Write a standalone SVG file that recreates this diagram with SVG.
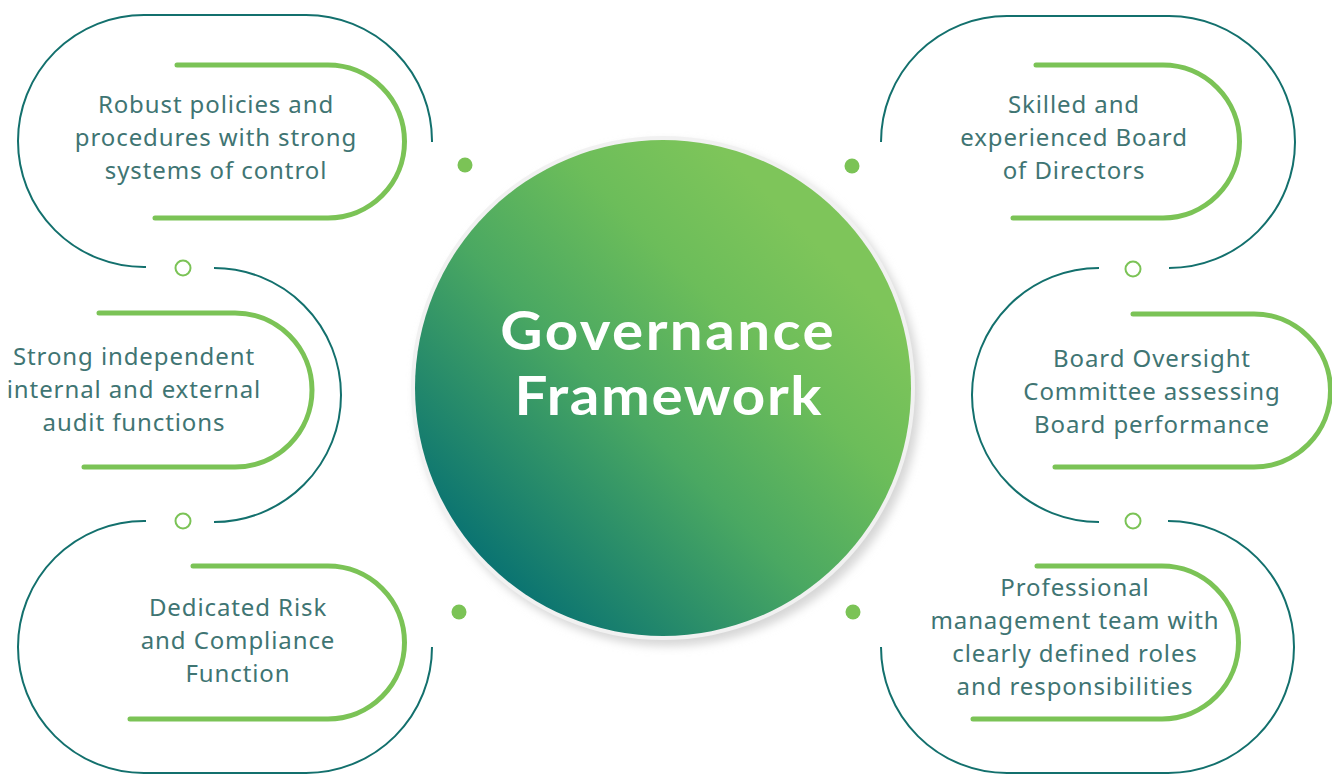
<svg xmlns="http://www.w3.org/2000/svg" width="1332" height="774" viewBox="0 0 1332 774">
  <defs>
    <linearGradient id="hubFill" x1="0.15" y1="0.85" x2="0.8" y2="0.2">
      <stop offset="0" stop-color="#0b7471"/>
      <stop offset="0.45" stop-color="#4aa862"/>
      <stop offset="0.75" stop-color="#6cbd5a"/>
      <stop offset="1" stop-color="#7ec55a"/>
    </linearGradient>
    <filter id="soft" x="-20%" y="-20%" width="140%" height="140%">
      <feGaussianBlur stdDeviation="5"/>
    </filter>
    <style>
      .outline { fill: none; stroke: #13706d; stroke-width: 2; }
      .accent { fill: none; stroke: #7bc356; stroke-width: 5; stroke-linecap: round; }
      .ring { fill: #ffffff; stroke: #7bc356; stroke-width: 2; }
      .dot { fill: #7bc356; }
      .label { font-family: "Noto Sans", "Liberation Sans", sans-serif; font-size: 24px; letter-spacing: 0.9px; fill: #3f7573; text-anchor: middle; }
      .title { font-family: Lato, "Liberation Sans", sans-serif; font-size: 53px; font-weight: 700; fill: #ffffff; text-anchor: middle; }
    </style>
  </defs>
  <rect width="1332" height="774" fill="#ffffff"/>

  <!-- connectors: outline arcs, accent arcs and joint markers -->
  <g id="connectors">
    <path class="outline" d="M432,142 A126,126 0 0 0 306,15 H144 A126,126 0 0 0 18,141 A126,126 0 0 0 144,267 H146"/>
    <path class="outline" d="M214,268 A127,127 0 0 1 214,522"/>
    <path class="outline" d="M146,521 H144 A126,126 0 0 0 18,647 A126,126 0 0 0 144,773 H306 A126,126 0 0 0 432,647"/>
    <path class="outline" d="M881,142 A126,126 0 0 1 1007,16 H1169 A126,126 0 0 1 1295,142 A126,126 0 0 1 1169,268"/>
    <path class="outline" d="M1099,268 A127,127 0 0 0 1099,522"/>
    <path class="outline" d="M1168,521 A126,126 0 0 1 1294,647 A126,126 0 0 1 1168,773 H1007 A126,126 0 0 1 881,647"/>

    <circle class="ring" cx="183" cy="268" r="7.5"/>
    <circle class="ring" cx="183" cy="521" r="7.5"/>
    <circle class="ring" cx="1133" cy="269" r="7.5"/>
    <circle class="ring" cx="1133" cy="521" r="7.5"/>

    <circle class="dot" cx="465" cy="165" r="7.5"/>
    <circle class="dot" cx="852" cy="166" r="7.5"/>
    <circle class="dot" cx="459" cy="612" r="7.5"/>
    <circle class="dot" cx="853" cy="612" r="7.5"/>
  </g>

  <!-- central hub -->
  <g id="hub">
    <circle cx="668" cy="394" r="252" fill="#d6d6d6" filter="url(#soft)"/>
    <circle cx="663" cy="388" r="252" fill="#f1f1f1"/>
    <circle cx="663" cy="388" r="248" fill="url(#hubFill)"/>
    <text class="title" transform="translate(667,350) scale(1.1,1)" textLength="303" lengthAdjust="spacing">Governance</text>
    <text class="title" transform="translate(668,415) scale(1.1,1)" textLength="279" lengthAdjust="spacing">Framework</text>
  </g>

  <g id="node-policies">
    <path class="accent" d="M177,65 H328 A76.5,76.5 0 0 1 328,218 H155"/>
    <text class="label" x="216" y="113">Robust policies and</text>
    <text class="label" x="216" y="146">procedures with strong</text>
    <text class="label" x="216" y="179">systems of control</text>
  </g>

  <g id="node-audit">
    <path class="accent" d="M99,313 H235 A77,77 0 0 1 235,467 H84"/>
    <text class="label" x="134" y="365">Strong independent</text>
    <text class="label" x="134" y="398">internal and external</text>
    <text class="label" x="134" y="431">audit functions</text>
  </g>

  <g id="node-risk">
    <path class="accent" d="M193,566 H328 A76.5,76.5 0 0 1 328,719 H130"/>
    <text class="label" x="238" y="616">Dedicated Risk</text>
    <text class="label" x="238" y="649">and Compliance</text>
    <text class="label" x="238" y="682">Function</text>
  </g>

  <g id="node-board">
    <path class="accent" d="M1036,65 H1163 A76.5,76.5 0 0 1 1163,218 H1013"/>
    <text class="label" x="1074" y="113">Skilled and</text>
    <text class="label" x="1074" y="146">experienced Board</text>
    <text class="label" x="1074" y="179">of Directors</text>
  </g>

  <g id="node-oversight">
    <path class="accent" d="M1133,314 H1254 A76.5,76.5 0 0 1 1254,467 H1055"/>
    <text class="label" x="1152" y="367">Board Oversight</text>
    <text class="label" x="1152" y="400">Committee assessing</text>
    <text class="label" x="1152" y="433">Board performance</text>
  </g>

  <g id="node-management">
    <path class="accent" d="M1037,566 H1162 A76.5,76.5 0 0 1 1162,719 H973"/>
    <text class="label" x="1075" y="596">Professional</text>
    <text class="label" x="1075" y="629">management team with</text>
    <text class="label" x="1075" y="662">clearly defined roles</text>
    <text class="label" x="1075" y="695">and responsibilities</text>
  </g>
</svg>
